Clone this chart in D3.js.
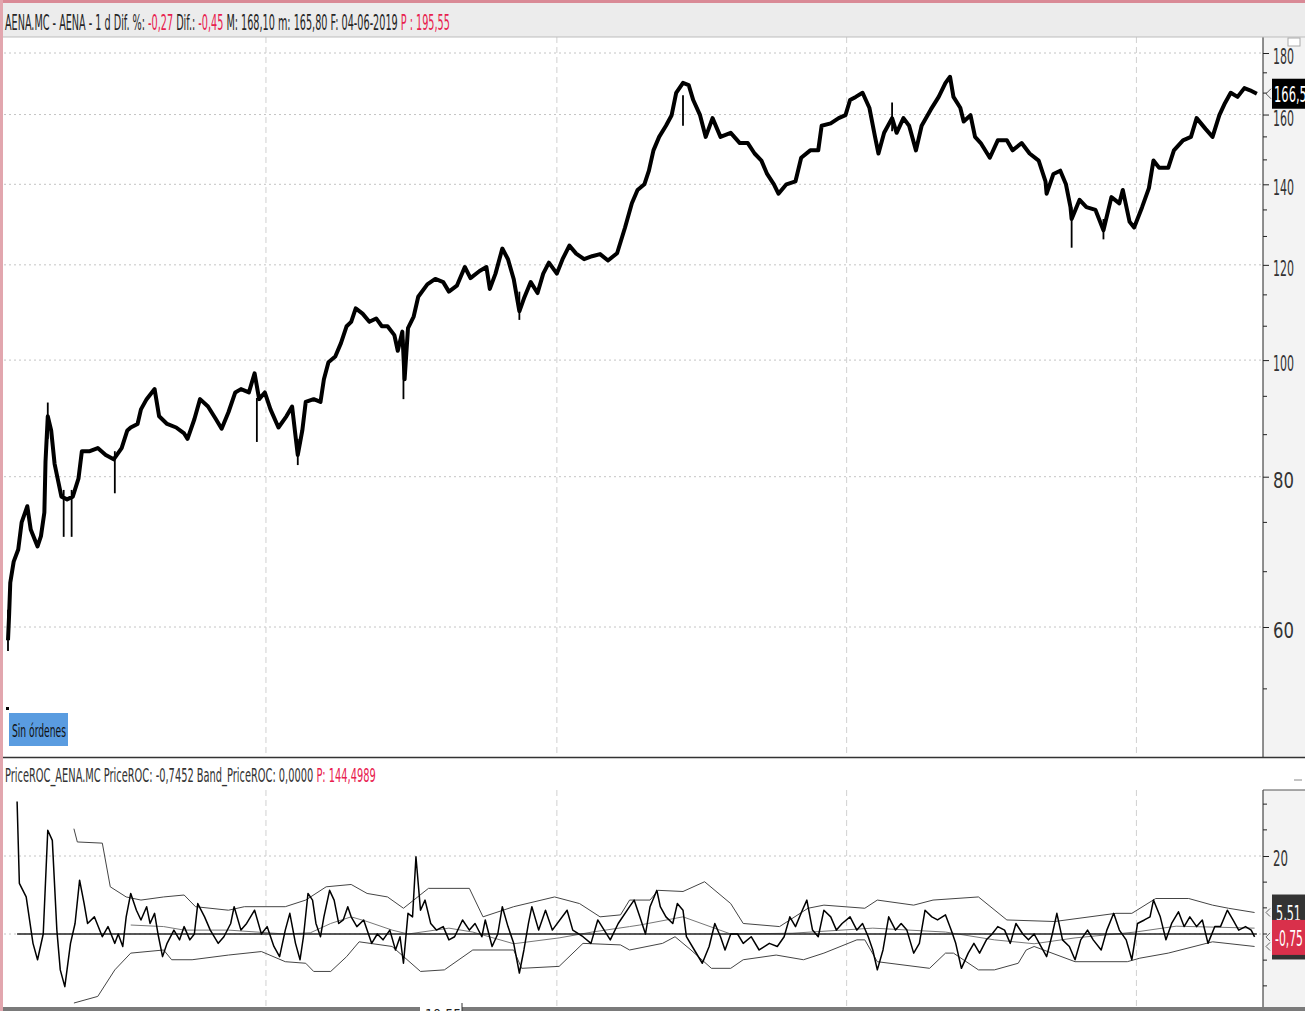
<!DOCTYPE html>
<html><head><meta charset="utf-8">
<script src="https://cdn.jsdelivr.net/npm/d3@7"></script>
<style>html,body{margin:0;padding:0;background:#fff;overflow:hidden}svg{display:block}</style>
</head><body>
<script>
// ---------- DATA (bar index = trading session, value) ----------
const priceBars = [[0,58.5],[1,61.5],[2,65.3],[5,68],[9,69.6],[12,73.3],[17,75.6],[20,72.3],[26,70],[29,71.4],[32,74.7],[33,82.3],[35,89.8],[38,87.4],[41,82],[47,77],[52,76.6],[57,77],[62,79.7],[65,84],[72,84],[79,84.5],[86,83.4],[93,82.7],[100,84.5],[105,87.4],[108,87.9],[114,88.5],[117,91],[122,92.8],[129,94.6],[133,89.8],[140,88.5],[148,87.9],[155,86.9],[158,86],[164,89.3],[169,92.8],[176,91.5],[183,89.3],[188,87.7],[194,90.5],[200,94],[205,94.6],[212,94],[217,97.5],[221,92.8],[226,94],[231,91],[238,87.9],[245,89.8],[250,91.5],[253,86.5],[255,83.4],[259,87.4],[262,92.3],[269,92.8],[275,92.3],[278,96.4],[282,99.6],[288,100.7],[293,103.3],[298,106.7],[302,107.6],[306,110.4],[312,109.3],[318,107.6],[324,108.3],[329,106.7],[334,106.7],[340,104.9],[343,101.8],[347,105.6],[349,96.4],[352,106.3],[357,108.7],[361,112.9],[369,115.6],[376,116.8],[383,116.1],[388,114],[395,115.3],[402,119.5],[407,117],[415,118.6],[421,119.5],[424,114.6],[429,118],[435,123.8],[440,121.3],[445,116.8],[450,109.8],[454,112.5],[460,116.1],[466,113.7],[471,118],[476,120.5],[483,118],[488,121.3],[494,124.5],[500,122.6],[507,121.3],[514,122],[521,122.5],[528,121],[536,122.7],[543,128.9],[549,135],[554,138.5],[560,140],[564,143.7],[568,149.4],[573,153.3],[579,156.6],[584,159.8],[588,166.8],[594,170],[599,169.3],[603,164.5],[609,159.8],[614,153.3],[620,158.9],[627,153.3],[636,154.5],[644,151.5],[651,151.5],[657,148.5],[663,146.5],[668,142.8],[674,140],[678,137.5],[685,140],[693,140.8],[698,147.3],[706,149.4],[713,149.4],[716,156.6],[724,157.3],[731,158.9],[737,159.8],[741,164.5],[746,165.5],[752,166.8],[758,162.1],[763,153.3],[766,148.5],[771,154.5],[778,158.9],[782,154.5],[788,158.9],[793,156.6],[799,149.4],[804,156.6],[812,161.5],[819,165.5],[825,170],[829,172],[832,165.5],[838,162.1],[841,157.9],[847,159.8],[851,153.3],[856,151.5],[864,147.3],[871,152.3],[879,152.3],[884,149.4],[892,151.5],[899,148.5],[907,146.5],[913,140.8],[914,137.5],[920,142.8],[926,143.7],[931,140],[935,134],[936,131],[943,135.9],[949,134],[957,133.3],[964,128.2],[971,136.6],[978,135],[981,138.5],[987,130.3],[991,128.9],[998,134],[1004,139],[1008,146.5],[1013,144.5],[1021,144.5],[1026,149.4],[1034,152.3],[1041,153.3],[1046,158.9],[1054,155.6],[1060,153.3],[1066,159.8],[1071,163.6],[1076,166.8],[1082,165.5],[1088,168.3],[1093,167.6],[1099,166.5]];
// isolated spikes: [bar, low, high]
const priceWicks = [[0,57.3,62],[35,86,92.2],[49,71.3,78],[56,71.3,78],[94,77.5,84],[219,85.5,93],[255,81.8,86],[348,92.8,104],[450,108,114],[594,156.6,166],[778,155,163.7],[936,124,134],[964,126,131]];

const rocBars = [[8,34],[10,13],[16,9.5],[22,-2.4],[26,-6.6],[31,0],[35,26.6],[39,24],[43,1],[46,-9.2],[50,-13.5],[55,-2.4],[59,2.7],[63,13.8],[67,7.8],[70,2.7],[76,4.4],[83,-0.7],[88,1.9],[94,-2.4],[97,0],[101,-3.2],[104,4.4],[108,10.4],[113,6.1],[117,3.6],[122,7],[125,2.7],[129,5.3],[132,0],[136,-5.8],[140,-2.4],[146,1],[151,-1.5],[155,1.9],[160,-1.5],[164,0],[167,7.8],[173,4.4],[178,1],[185,-2.4],[190,-0.7],[196,2.7],[199,7],[205,1],[210,2.7],[217,6.1],[223,0],[228,1.9],[234,-3.2],[239,-5.8],[244,1],[248,5.3],[253,-2.4],[257,-6.6],[260,-0.7],[264,10.4],[268,8.7],[271,2.7],[275,-0.7],[278,4.4],[283,11.2],[287,8.7],[291,2.7],[295,3.6],[299,7],[302,4.4],[307,1.9],[313,3.6],[316,1],[320,-2.4],[325,0],[330,-1.5],[336,1],[341,-4.1],[345,-0.7],[348,-7.5],[352,5.3],[356,4.4],[359,19.8],[363,6.1],[367,8.7],[372,2.7],[377,1],[383,1.9],[388,-1.5],[393,-0.7],[400,3.6],[406,1],[411,2.7],[417,-0.7],[420,3.6],[426,-3.2],[431,0],[435,7],[440,1.9],[445,-2.4],[450,-10],[454,-4.1],[458,2.7],[461,7],[467,1],[473,6.1],[479,1],[492,6.1],[497,1],[506,-0.7],[513,-2.4],[519,3.6],[530,-1.5],[537,2.7],[547,7],[551,8.7],[556,4.4],[561,0],[565,7],[571,11.2],[574,7],[579,4.4],[585,2.7],[589,7.8],[594,6.1],[597,-0.7],[604,-4.1],[611,-7.5],[617,-3.2],[622,2.7],[627,-0.7],[631,-4.1],[636,0],[642,0],[647,-2.4],[654,-0.7],[661,-4.1],[670,-2.4],[677,-3.2],[683,-0.7],[688,4.4],[693,1.9],[699,6.1],[703,8.7],[708,1],[713,-0.7],[718,6.1],[724,4.4],[729,1],[734,2.7],[741,4.4],[747,1],[752,2.7],[757,-0.7],[761,-4.1],[765,-9.2],[770,-4.1],[775,4.4],[781,1],[786,2.7],[791,1],[797,-4.9],[802,-2.4],[807,6.1],[813,4.4],[818,3.6],[825,4.9],[830,1],[834,-2.4],[839,-8.8],[845,-4.9],[850,-2.4],[855,-4.9],[861,-1.5],[866,0],[871,1.9],[877,1],[882,-2.4],[887,2.7],[893,0],[898,-1.5],[903,0],[909,-3.2],[914,-5.8],[919,0],[923,5.3],[928,-1.5],[934,-3.2],[939,-6.6],[944,-1.5],[950,1],[955,-1.5],[962,-4.1],[967,1],[973,5.3],[978,1],[984,-1.5],[989,-6.6],[994,2.7],[1000,3.6],[1005,4.4],[1008,8.7],[1014,4.4],[1019,-1.5],[1024,2.7],[1030,5.7],[1035,1.9],[1040,4.4],[1046,1.9],[1051,3.6],[1056,-2.4],[1062,1.9],[1067,1.9],[1073,6.1],[1078,3.6],[1083,1],[1089,1.9],[1094,1],[1097,-0.75]];
const upperBand = [[58,27],[61,23.6],[83,23.3],[90,12.1],[104,9.5],[117,8.7],[137,9.5],[155,10],[165,7],[194,6.1],[208,7],[244,7],[262,8.7],[280,12.1],[302,12.7],[316,10.4],[334,9.5],[348,6.6],[370,11.7],[406,11.7],[418,4.4],[445,7],[481,9.5],[503,7.8],[521,4.4],[539,4.9],[547,8.7],[565,8.7],[572,11.2],[594,10.9],[613,13.4],[636,7.8],[647,2.7],[679,1.9],[704,6.6],[718,7.4],[754,6.6],[765,8.7],[797,7.4],[814,8.7],[854,9.5],[879,3.6],[921,3.2],[975,5.3],[989,5.3],[1010,9.1],[1039,9.1],[1060,7.4],[1074,6.6],[1097,5.51]];
const middleBand = [[108,2.3],[137,1.9],[155,1.0],[194,1.0],[244,0],[266,0.3],[284,2.7],[302,4.4],[316,3.2],[338,1.0],[352,0],[388,1.5],[409,0.5],[445,-2.5],[485,-1],[514,0.5],[547,1.9],[556,2.3],[594,4.4],[636,0],[690,0.2],[761,1.5],[825,0.5],[868,-1.5],[903,-2.5],[939,-1],[992,0.5],[1028,2],[1097,1.5]];
const lowerBand = [[58,-17.7],[79,-16],[94,-9.2],[108,-4.9],[137,-4.1],[144,-6.6],[162,-6.6],[194,-5.4],[223,-4.5],[244,-7.1],[262,-7.5],[269,-9.6],[284,-9.6],[298,-5.8],[309,-2],[338,-3.2],[363,-9.6],[384,-9.2],[409,-4.1],[445,-4.1],[452,-8.8],[485,-8.3],[506,-2.4],[539,-2.8],[547,-4.1],[576,-2.4],[587,-0.7],[601,-4.1],[619,-8.8],[636,-8.8],[647,-6.6],[676,-5.4],[700,-6.6],[718,-4.9],[747,-1.5],[754,-1.5],[765,-7.1],[811,-8.8],[825,-4.9],[832,-4.9],[854,-9.2],[868,-9.2],[889,-7.5],[896,-4.1],[903,-3.2],[939,-7.1],[985,-7.1],[996,-6.2],[1021,-4.9],[1060,-2],[1097,-3.2]];

const yearStartBars = [227, 483, 738, 993];
const priceTicks = [180, 160, 140, 120, 100, 80, 60];
const priceMinorTicks = [186.7, 173.3, 166.7, 153.3, 146.7, 133.3, 126.7, 113.3, 106.7, 93.3, 86.7, 73.3, 66.7, 53.3, 46.7];
const rocTicks = [20];
const rocMinorTicks = [33.3, 26.7, 13.3, 6.7, 0, -6.7, -13.3];
const lastPriceLabel = "166,5";
const lastRocLabel = "-0,75";
const lastUpperLabel = "5,51";
const headerParts = [["AENA.MC - AENA -  1 d  Dif. %: ","#262626"],["-0,27","#e8204e"],[" Dif.: ","#262626"],["-0,45","#e8204e"],["  M: 168,10  m: 165,80  F: 04-06-2019  ","#262626"],["P : 195,55","#e8204e"]];
const subHeaderParts = [["PriceROC_AENA.MC  PriceROC: -0,7452  Band_PriceROC: 0,0000  ","#333"],["P: 144,4989","#e8204e"]];

// ---------- LAYOUT ----------
const W = 1305, H = 1011;
const FONT = "'Liberation Sans Narrow','Arial Narrow','DejaVu Sans Condensed','Liberation Sans',sans-serif";
const svg = d3.select("body").append("svg").attr("width", W).attr("height", H);
const pTop = {x0: 4, x1: 1263, y0: 37, y1: 757};
const pBot = {x0: 4, x1: 1263, y0: 790, y1: 1007};

const x = d3.scaleLinear().domain([0, 1100]).range([8, 1258]);
const y = d3.scaleLog().domain([60, 180]).range([627, 53]);
const yr = d3.scaleLinear().domain([0, 20]).range([934, 856]);

function fit(sel, x0, w) {
  const L = sel.node().getComputedTextLength();
  if (L > 0) sel.attr("transform", `translate(${x0},0) scale(${w / L},1) translate(${-x0},0)`);
  return sel;
}
function parts(sel, arr) { arr.forEach(([t, c]) => sel.append("tspan").attr("fill", c).text(t)); return sel; }

svg.append("rect").attr("width", W).attr("height", H).attr("fill", "#fff");
svg.append("rect").attr("x", 1263).attr("y", 37).attr("width", 42).attr("height", 720).attr("fill", "#f3f3f3");
svg.append("rect").attr("x", 1263).attr("y", 790).attr("width", 42).attr("height", 218).attr("fill", "#f3f3f3");

const defs = svg.append("defs");
defs.append("clipPath").attr("id", "cTop").append("rect").attr("x", pTop.x0).attr("y", pTop.y0).attr("width", pTop.x1 - pTop.x0).attr("height", pTop.y1 - pTop.y0);
defs.append("clipPath").attr("id", "cBot").append("rect").attr("x", pBot.x0).attr("y", pBot.y0).attr("width", pBot.x1 - pBot.x0).attr("height", pBot.y1 - pBot.y0);

// ---------- TOP PANEL ----------
const gT = svg.append("g").attr("clip-path", "url(#cTop)");
gT.selectAll(".hg").data(priceTicks).join("line")
  .attr("x1", pTop.x0).attr("x2", pTop.x1).attr("y1", d => y(d)).attr("y2", d => y(d))
  .attr("stroke", "#c4c4c4").attr("stroke-dasharray", "2,3");
gT.selectAll(".vg").data(yearStartBars).join("line")
  .attr("x1", d => x(d)).attr("x2", d => x(d)).attr("y1", pTop.y0).attr("y2", pTop.y1)
  .attr("stroke", "#d0d0d0").attr("stroke-dasharray", "6,4");
gT.selectAll(".wick").data(priceWicks).join("line")
  .attr("x1", d => x(d[0])).attr("x2", d => x(d[0])).attr("y1", d => y(d[1])).attr("y2", d => y(d[2]))
  .attr("stroke", "#000").attr("stroke-width", 1.8);
gT.append("path").datum(priceBars)
  .attr("d", d3.line().x(d => x(d[0])).y(d => y(d[1])))
  .attr("fill", "none").attr("stroke", "#000").attr("stroke-width", 4).attr("stroke-linejoin", "round");

const axT = d3.axisRight(y).tickValues(priceTicks).tickSize(6).tickFormat("");
const gAT = svg.append("g").attr("transform", "translate(1263,0)").call(axT);
gAT.select(".domain").attr("d", `M0,${pTop.y0}V${pTop.y1}`).attr("stroke", "#222");
gAT.selectAll(".tick line").attr("stroke", "#222");
svg.append("g").selectAll("line").data(priceMinorTicks.filter(v => y(v) > pTop.y0 && y(v) < pTop.y1)).join("line")
  .attr("x1", 1263).attr("x2", 1267).attr("y1", d => y(d)).attr("y2", d => y(d)).attr("stroke", "#222");
priceTicks.forEach(v => {
  const t = svg.append("text").attr("x", 1273).attr("y", y(v) + 11).attr("font-family", FONT)
    .attr("font-size", 22).attr("fill", "#333").text(v);
  fit(t, 1273, 21);
});
const ly = y(priceBars[priceBars.length - 1][1]);
svg.append("polyline").attr("points", `1271,${ly - 5} 1266,${ly} 1271,${ly + 5}`).attr("fill", "none").attr("stroke", "#555");
svg.append("rect").attr("x", 1272).attr("y", ly - 15).attr("width", 34).attr("height", 30).attr("fill", "#000");
fit(svg.append("text").attr("x", 1274).attr("y", ly + 8).attr("font-family", FONT).attr("font-size", 21).attr("fill", "#fff").text(lastPriceLabel), 1274, 33);

svg.append("rect").attr("x", 6).attr("y", 707).attr("width", 3).attr("height", 3).attr("fill", "#000");
svg.append("rect").attr("x", 9).attr("y", 713).attr("width", 59).attr("height", 33).attr("fill", "#5a9ce0");
fit(svg.append("text").attr("x", 12).attr("y", 737).attr("font-family", FONT).attr("font-size", 18).attr("fill", "#111").text("Sin órdenes"), 12, 54);

// ---------- BOTTOM PANEL ----------
const gB = svg.append("g").attr("clip-path", "url(#cBot)");
gB.selectAll(".hg").data(rocTicks.concat([0])).join("line")
  .attr("x1", pBot.x0).attr("x2", pBot.x1).attr("y1", d => yr(d)).attr("y2", d => yr(d))
  .attr("stroke", "#c4c4c4").attr("stroke-dasharray", "2,3");
gB.selectAll(".vg").data(yearStartBars).join("line")
  .attr("x1", d => x(d)).attr("x2", d => x(d)).attr("y1", pBot.y0).attr("y2", pBot.y1)
  .attr("stroke", "#d0d0d0").attr("stroke-dasharray", "6,4");
const lineR = d3.line().x(d => x(d[0])).y(d => yr(d[1]));
gB.append("path").datum(upperBand).attr("d", lineR).attr("fill", "none").attr("stroke", "#444").attr("stroke-width", 1);
gB.append("path").datum(middleBand).attr("d", lineR).attr("fill", "none").attr("stroke", "#777").attr("stroke-width", 1);
gB.append("path").datum(lowerBand).attr("d", lineR).attr("fill", "none").attr("stroke", "#444").attr("stroke-width", 1);
gB.append("line").attr("x1", x(8)).attr("x2", x(1099)).attr("y1", yr(0)).attr("y2", yr(0)).attr("stroke", "#222").attr("stroke-width", 1.6);
gB.append("path").datum(rocBars).attr("d", lineR).attr("fill", "none").attr("stroke", "#000").attr("stroke-width", 1.5).attr("stroke-linejoin", "round");

const axB = d3.axisRight(yr).tickValues(rocTicks).tickSize(6).tickFormat("");
const gAB = svg.append("g").attr("transform", "translate(1263,0)").call(axB);
gAB.select(".domain").attr("d", `M0,${pBot.y0}V${pBot.y1}`).attr("stroke", "#222");
gAB.selectAll(".tick line").attr("stroke", "#222");
svg.append("line").attr("x1", 1263).attr("x2", 1305).attr("y1", pBot.y0).attr("y2", pBot.y0).attr("stroke", "#555");
svg.append("g").selectAll("line").data(rocMinorTicks).join("line")
  .attr("x1", 1263).attr("x2", 1267).attr("y1", d => yr(d)).attr("y2", d => yr(d)).attr("stroke", "#222");
rocTicks.forEach(v => {
  fit(svg.append("text").attr("x", 1273).attr("y", yr(v) + 10.5).attr("font-family", FONT)
    .attr("font-size", 22).attr("fill", "#333").text(v), 1273, 15);
});
const yu = yr(upperBand[upperBand.length - 1][1]);
const yl = yr(lowerBand[lowerBand.length - 1][1]);
const yv = yr(rocBars[rocBars.length - 1][1]);
[yu, yv, yl].forEach(yy => svg.append("polyline").attr("points", `1270,${yy - 4} 1266,${yy} 1270,${yy + 4}`).attr("fill", "none").attr("stroke", "#666"));
svg.append("rect").attr("x", 1272).attr("y", yl - 13).attr("width", 34).attr("height", 26).attr("fill", "#333");
svg.append("rect").attr("x", 1272).attr("y", yu - 18).attr("width", 34).attr("height", 34).attr("fill", "#333");
fit(svg.append("text").attr("x", 1276).attr("y", yu + 9).attr("font-family", FONT).attr("font-size", 21).attr("fill", "#fff").text(lastUpperLabel), 1276, 25);
svg.append("rect").attr("x", 1272).attr("y", yv - 17).attr("width", 34).attr("height", 35).attr("fill", "#d9304b");
fit(svg.append("text").attr("x", 1275).attr("y", yv + 9).attr("font-family", FONT).attr("font-size", 21).attr("fill", "#fff").text(lastRocLabel), 1275, 28);

// ---------- FRAME / HEADERS ----------
svg.append("rect").attr("x", 3).attr("y", 3).attr("width", W - 3).attr("height", 34).attr("fill", "#ececec");
svg.append("line").attr("x1", 3).attr("x2", W).attr("y1", 37).attr("y2", 37).attr("stroke", "#bdbdbd");
svg.append("rect").attr("x", 1288).attr("y", 38).attr("width", 12).attr("height", 8).attr("fill", "#fff").attr("stroke", "#aaa");
fit(parts(svg.append("text").attr("x", 5).attr("y", 30).attr("font-family", FONT).attr("font-size", 21), headerParts), 5, 445);

svg.append("line").attr("x1", 3).attr("x2", W).attr("y1", 757.5).attr("y2", 757.5).attr("stroke", "#333").attr("stroke-width", 1.5);
svg.append("line").attr("x1", 1294).attr("x2", 1302).attr("y1", 780).attr("y2", 780).attr("stroke", "#888");
fit(parts(svg.append("text").attr("x", 5).attr("y", 782).attr("font-family", FONT).attr("font-size", 20), subHeaderParts), 5, 371);

svg.append("rect").attr("x", 3).attr("y", 1007).attr("width", W - 3).attr("height", 4).attr("fill", "#7a7a7a");
svg.append("rect").attr("x", 420).attr("y", 1004).attr("width", 42).attr("height", 7).attr("fill", "#fff");
svg.append("line").attr("x1", 462).attr("x2", 462).attr("y1", 1003).attr("y2", 1011).attr("stroke", "#333");
svg.append("text").attr("x", 425).attr("y", 1019).attr("font-family", FONT).attr("font-size", 14).attr("fill", "#222").text("10:55");

svg.append("rect").attr("x", 0).attr("y", 0).attr("width", W).attr("height", 3).attr("fill", "#d98a96");
svg.append("rect").attr("x", 0).attr("y", 0).attr("width", 3).attr("height", H).attr("fill", "#e2a6ae");
</script>
</body></html>
